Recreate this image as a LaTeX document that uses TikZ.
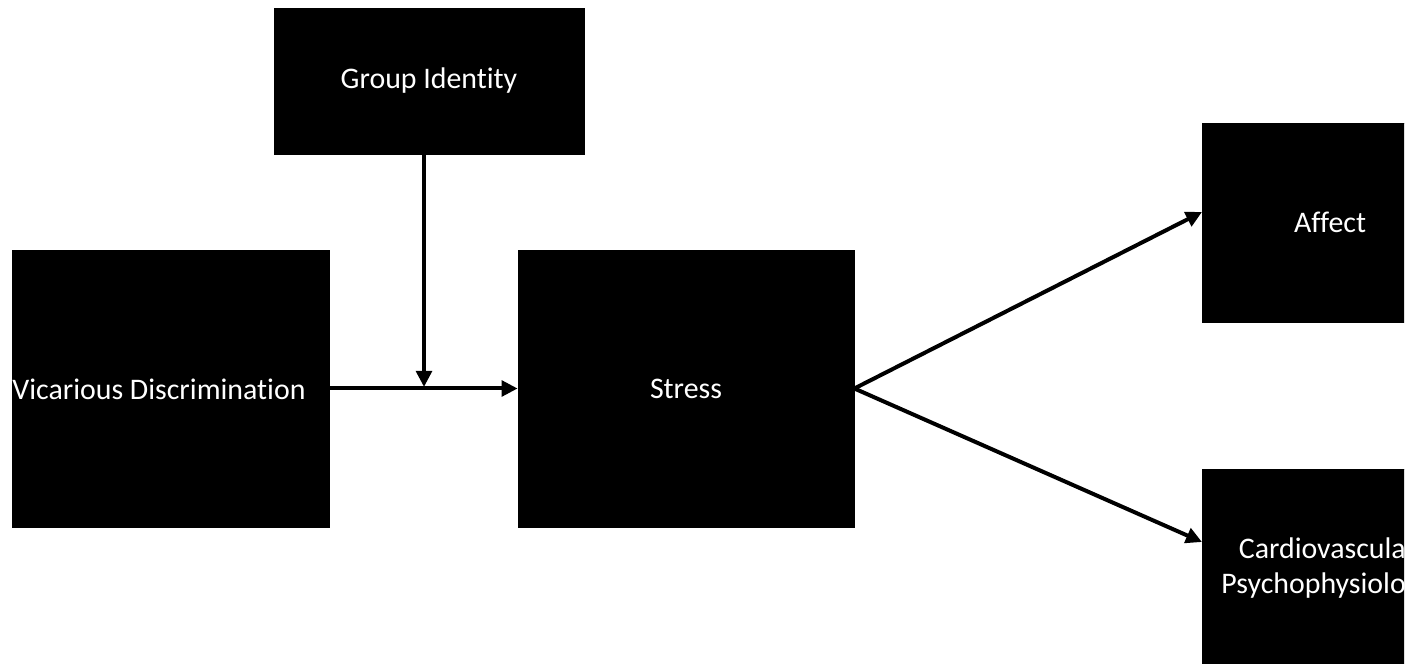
\documentclass[tikz,border=0pt]{standalone}
\usepackage{fontspec}
\setmainfont{Carlito}[Ligatures=NoCommon]
\usetikzlibrary{arrows.meta, positioning}

\begin{document}
\begin{tikzpicture}[x=0.2mm, y=-0.2mm, font=\fontsize{17}{20}\selectfont,
    box/.style={draw, fill=black, text=white, inner sep=0pt},
    link/.style={-{Triangle[length=0.32cm, width=0.31cm]}, line width=0.08cm}]
  \useasboundingbox (0,0) rectangle (1421,664);
  \begin{scope}
    \clip (0,0) rectangle (1404,664);
    \node[box, minimum width=6.2cm, minimum height=2.92cm] (grp) at (429,81) {Group Identity};
    \node[box, minimum width=6.34cm, minimum height=5.54cm] (vic) at (170.5,388.5) {};
    \node[text=white] (victxt) at (159,389) {Vicarious Discrimination};
    \node[box, minimum width=6.72cm, minimum height=5.54cm] (stress) at (686,388.5) {Stress};
    \node[box, minimum width=5.12cm, minimum height=3.98cm] (aff) at (1330,222.5) {Affect};
    \node[box, minimum width=5.12cm, minimum height=3.98cm] (cv) at (1330,568.5) {};
    \node[text=white, align=right, anchor=east] (cvtxt) at (1412,568) {Cardiovascula\\Psychophysiolo};
  \end{scope}
  % links
  \coordinate (join) at (424,387);
  \coordinate (affin) at (1202,212);
  \coordinate (cvin) at (1202,542);
  \draw[link] (vic.east) -- (stress.west);
  \draw[link] (grp.south -| join) -- (join);
  \draw[link] (stress.east) -- (affin);
  \draw[link] (stress.east) -- (cvin);
\end{tikzpicture}
\end{document}
